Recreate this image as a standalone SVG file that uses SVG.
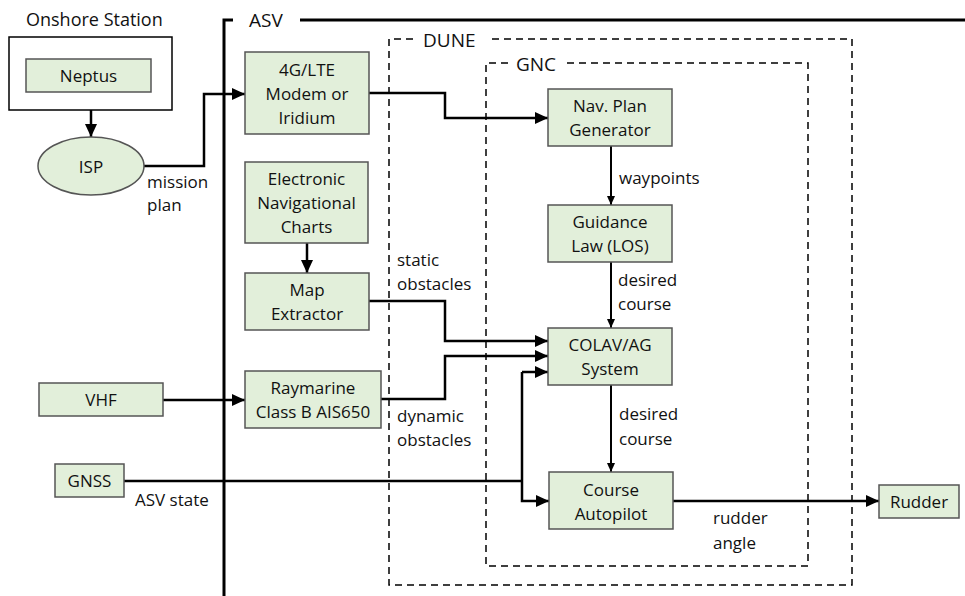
<svg xmlns="http://www.w3.org/2000/svg" width="965" height="596" viewBox="0 0 965 596">
<defs>
<style>
.box{fill:#e2efda;stroke:#555;stroke-width:1.5}
.t{font-family:"Open Sans","Liberation Sans",sans-serif;font-size:17px;fill:#111;text-anchor:middle;dominant-baseline:central}
.l{font-family:"Open Sans","Liberation Sans",sans-serif;font-size:17px;fill:#111;dominant-baseline:central}
.h{font-family:"Open Sans","Liberation Sans",sans-serif;font-size:19px;fill:#111;dominant-baseline:central}
.c{fill:none;stroke:#000;stroke-width:2.5}
.c2{fill:none;stroke:#000;stroke-width:2}
.dash{fill:none;stroke:#000;stroke-width:1.5;stroke-dasharray:7 5}
</style>
<marker id="ah" markerUnits="userSpaceOnUse" markerWidth="14" markerHeight="12" refX="13" refY="6" orient="auto"><path d="M0,0 L13,6 L0,12 Z" fill="#000"/></marker>
<marker id="as" markerUnits="userSpaceOnUse" markerWidth="10" markerHeight="10" refX="9" refY="5" orient="auto"><path d="M0,1 L9,5 L0,9 Z" fill="#000"/></marker>
</defs>
<rect width="965" height="596" fill="#fff"/>

<g id="onshore">
<text class="l" x="26" y="19" style="font-size:18px">Onshore Station</text>
<rect x="9" y="37" width="163" height="73" fill="none" stroke="#000" stroke-width="1.5"/>
</g>
<g id="asv-frame">
<path d="M224,596 V20 H233 M300,20 H965" fill="none" stroke="#000" stroke-width="3"/>
<text class="h" x="249" y="20">ASV</text>
</g>
<g id="dune">
<path class="dash" d="M413,39 H389 V585 H852 V39 H487"/>
<text class="h" x="423" y="40">DUNE</text>
</g>
<g id="gnc">
<path class="dash" d="M508,63 H486 V566 H808 V63 H567"/>
<text class="h" x="516" y="64">GNC</text>
</g>

<g id="connectors">
<path class="c" d="M91,110 V137" marker-end="url(#ah)"/>
<path class="c" d="M144,166 H204 V94 H245" marker-end="url(#ah)"/>
<path class="c" d="M369,93 H445 V118 H548" marker-end="url(#ah)"/>
<path class="c" d="M307,243 V273" marker-end="url(#ah)"/>
<path class="c" d="M163,400 H245" marker-end="url(#ah)"/>
<path class="c2" d="M611,146 V205" marker-end="url(#as)"/>
<path class="c2" d="M611,262 V328" marker-end="url(#as)"/>
<path class="c2" d="M611,385 V472" marker-end="url(#as)"/>
<path class="c" d="M369,301 H445 V341 H548" marker-end="url(#ah)"/>
<path class="c" d="M381,399 H445 V356 H548" marker-end="url(#ah)"/>
<path class="c" d="M124,481 H522"/>
<path class="c" d="M522,372 H548" marker-end="url(#ah)"/>
<path class="c" d="M522,372 V501 H549" marker-end="url(#ah)"/>
<path class="c" d="M673,501 H879" marker-end="url(#ah)"/>
</g>

<g id="labels">
<text class="l" x="147" y="181">mission</text>
<text class="l" x="147" y="204">plan</text>
<text class="l" x="619" y="177">waypoints</text>
<text class="l" x="618" y="279">desired</text>
<text class="l" x="618" y="303">course</text>
<text class="l" x="397" y="259">static</text>
<text class="l" x="397" y="283">obstacles</text>
<text class="l" x="397" y="415">dynamic</text>
<text class="l" x="397" y="439">obstacles</text>
<text class="l" x="619" y="413">desired</text>
<text class="l" x="619" y="438">course</text>
<text class="l" x="135" y="499">ASV state</text>
<text class="l" x="713" y="517">rudder</text>
<text class="l" x="713" y="542">angle</text>
</g>

<g id="neptus"><rect class="box" x="26" y="59" width="125" height="33"/><text class="t" x="88.5" y="75.5">Neptus</text></g>
<g id="isp"><ellipse class="box" cx="91" cy="166" rx="53" ry="29"/><text class="t" x="91" y="166">ISP</text></g>
<g id="modem"><rect class="box" x="245" y="52" width="124" height="82"/><text class="t" x="307" y="69">4G/LTE</text><text class="t" x="307" y="93">Modem or</text><text class="t" x="307" y="117">Iridium</text></g>
<g id="enc"><rect class="box" x="245" y="162" width="123" height="81"/><text class="t" x="306.5" y="178">Electronic</text><text class="t" x="306.5" y="202">Navigational</text><text class="t" x="306.5" y="226">Charts</text></g>
<g id="map"><rect class="box" x="245" y="273" width="124" height="57"/><text class="t" x="307" y="289">Map</text><text class="t" x="307" y="313">Extractor</text></g>
<g id="ais"><rect class="box" x="245" y="371" width="136" height="57"/><text class="t" x="313" y="387">Raymarine</text><text class="t" x="313" y="411">Class B AIS650</text></g>
<g id="vhf"><rect class="box" x="39" y="383" width="124" height="33"/><text class="t" x="101" y="399.5">VHF</text></g>
<g id="gnss"><rect class="box" x="55" y="464" width="69" height="33"/><text class="t" x="89.5" y="480.5">GNSS</text></g>
<g id="navplan"><rect class="box" x="548" y="89" width="124" height="57"/><text class="t" x="610" y="105">Nav. Plan</text><text class="t" x="610" y="129">Generator</text></g>
<g id="guidance"><rect class="box" x="548" y="205" width="124" height="57"/><text class="t" x="610" y="221">Guidance</text><text class="t" x="610" y="245">Law (LOS)</text></g>
<g id="colav"><rect class="box" x="548" y="328" width="124" height="57"/><text class="t" x="610" y="344">COLAV/AG</text><text class="t" x="610" y="368">System</text></g>
<g id="autopilot"><rect class="box" x="549" y="472" width="124" height="57"/><text class="t" x="611" y="489">Course</text><text class="t" x="611" y="513">Autopilot</text></g>
<g id="rudder"><rect class="box" x="879" y="485" width="80" height="33"/><text class="t" x="919" y="501.5">Rudder</text></g>
</svg>
